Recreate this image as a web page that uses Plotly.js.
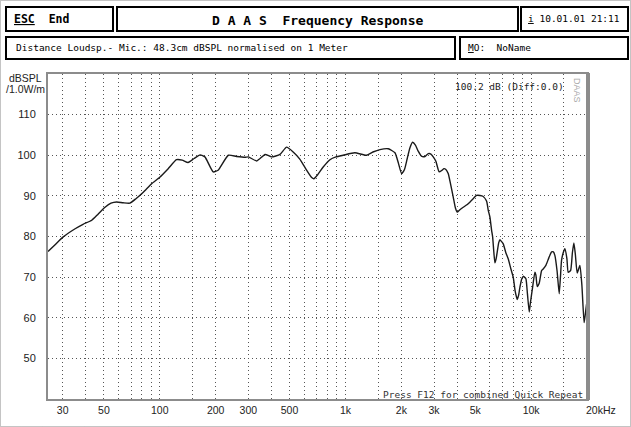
<!DOCTYPE html>
<html><head><meta charset="utf-8">
<script src="https://cdn.plot.ly/plotly-3.0.1.min.js"></script>
<style>html,body{margin:0;padding:0;background:#fff;}#chart{width:631px;height:427px;}</style>
</head><body><div id="chart"></div>
<script>
const freqHz = [25, 27.3, 30.2, 35, 38.6, 43, 46.5, 50.7, 54.6, 58.6, 63.4, 69, 74.4, 81.5, 90.4, 100, 111, 123, 132, 142, 153, 165, 175, 194, 206, 234, 259, 288, 300, 333, 369, 400, 444, 482, 523, 569, 605, 658, 676, 711, 759, 825, 889, 973, 1124, 1300, 1406, 1534, 1700, 1848, 1930, 2007, 2080, 2152, 2223, 2300, 2382, 2466, 2565, 2680, 2793, 2887, 2971, 3070, 3198, 3311, 3393, 3475, 3577, 3698, 3807, 3912, 4000, 4135, 4310, 4510, 4780, 5087, 5300, 5500, 5760, 5873, 5998, 6127, 6205, 6290, 6383, 6478, 6570, 6693, 6792, 6918, 7078, 7310, 7527, 7783, 8010, 8210, 8418, 8560, 8703, 8892, 9068, 9205, 9375, 9550, 9770, 9900, 10185, 10483, 10615, 10786, 11057, 11390, 11613, 12010, 12470, 12895, 13180, 13435, 13800, 14170, 14385, 14585, 14890, 15203, 15593, 15838, 16315, 16685, 17000, 17318, 17710, 18312, 18772, 19290, 19540, 19905];
const splDb = [76.3, 78.0, 79.9, 81.9, 83.0, 84.0, 85.5, 87.2, 88.2, 88.5, 88.3, 88.2, 89.3, 90.9, 93.0, 94.6, 96.7, 98.9, 98.8, 98.2, 99.2, 100.1, 99.6, 95.9, 96.3, 100.0, 99.7, 99.5, 99.6, 98.6, 100.2, 99.6, 100.2, 102.0, 100.8, 99.0, 97.0, 94.5, 94.2, 95.3, 97.1, 98.9, 99.6, 100.0, 100.6, 100.0, 100.8, 101.4, 101.6, 100.6, 98.0, 95.5, 96.5, 99.2, 101.8, 103.2, 102.5, 101.0, 99.8, 99.7, 100.4, 100.3, 99.6, 98.5, 95.9, 96.3, 96.7, 96.5, 95.5, 92.5, 89.7, 87.0, 86.0, 86.6, 87.2, 87.8, 88.9, 90.1, 90.1, 89.9, 88.7, 86.5, 84.8, 81.5, 79.9, 76.5, 73.5, 74.5, 76.2, 78.5, 79.2, 78.8, 78.2, 76.0, 74.5, 72.0, 70.0, 66.5, 64.5, 65.5, 67.5, 69.5, 70.2, 70.0, 69.6, 66.0, 61.4, 63.5, 67.5, 71.2, 70.5, 67.7, 68.5, 71.6, 72.0, 72.9, 74.8, 76.2, 76.2, 75.3, 71.5, 65.9, 70.0, 74.1, 76.0, 77.0, 74.5, 71.2, 71.6, 76.0, 78.4, 75.5, 71.0, 72.9, 68.0, 58.8, 60.5, 63.4];

const xTickVals = [30, 40, 50, 60, 70, 80, 90, 100, 150, 200, 300, 400, 500, 600, 700, 800, 900, 1000, 1500, 2000, 3000, 4000, 5000, 6000, 7000, 8000, 9000, 10000, 15000, 20000];
const xTickText = ['30', '', '50', '', '', '', '', '100', '', '200', '300', '', '500', '', '', '', '', '1k', '', '2k', '3k', '', '5k', '', '', '', '', '10k', '', ''];
const yTickVals = [50, 60, 70, 80, 90, 100, 110];
const yTickText = ['50', '60', '70', '80', '90', '100', '110'];

const W = 631, H = 427, L = 48, R = 587, T = 74, B = 399;
const px = x => (x - L) / (R - L);
const py = y => (B - y) / (B - T);

const mono = 'DejaVu Sans Mono, Liberation Mono, monospace';
const sans = 'Liberation Sans, Arial, sans-serif';

function box(x0, y0, x1, y1) {
  return {type: 'rect', xref: 'paper', yref: 'paper', x0: px(x0), x1: px(x1), y0: py(y1), y1: py(y0),
          line: {color: '#000', width: 2}, fillcolor: 'rgba(0,0,0,0)', layer: 'above'};
}
function txt(x, y, text, size, anchor, opts) {
  return Object.assign({xref: 'paper', yref: 'paper', x: px(x), y: py(y), text: text, showarrow: false,
    xanchor: anchor || 'left', yanchor: 'middle', font: {family: mono, size: size, color: '#000'}}, opts || {});
}

const shapes = [
  {type: 'rect', xref: 'paper', yref: 'paper', x0: px(0.5), x1: px(630.5), y0: py(426.5), y1: py(0.5),
   line: {color: '#888', width: 1, dash: '1px,1px'}},
  box(6, 7, 113, 31), box(117, 7, 518, 31), box(521, 7, 628, 31),
  box(6, 37, 455, 59), box(460, 37, 628, 59),
  {type: 'rect', xref: 'paper', yref: 'paper', x0: px(586), x1: px(590), y0: py(400), y1: py(73),
   line: {width: 0}, fillcolor: '#8c8c8c', layer: 'above'}
];

const annotations = [
  txt(12, 19, '<b><u>ESC</u>  End</b>', 11.5),
  txt(317, 20, '<b>D A A S  Frequency Response</b>', 13, 'center'),
  txt(526, 19, '<u>i</u> 10.01.01 21:11', 9.5),
  txt(14, 48, 'Distance Loudsp.- Mic.: 48.3cm dBSPL normalised on 1 Meter', 9.5),
  txt(466, 48, '<u>M</u>O:  NoName', 9.5),
  txt(44, 78, 'dBSPL', 10, 'right', {font: {family: sans, size: 10.5, color: '#222'}}),
  txt(47, 89, '/1.0W/m', 10, 'right', {font: {family: sans, size: 10.5, color: '#222'}}),
  txt(566, 86, '100.2 dB (Diff:0.0)', 9.5, 'right', {font: {family: mono, size: 9.5, color: '#222'}}),
  txt(585, 394, 'Press F12 for combined Quick Repeat', 9.5, 'right', {font: {family: mono, size: 9.5, color: '#333'}}),
  txt(584, 410, '20kHz', 10.5, 'left', {font: {family: sans, size: 10.5, color: '#222'}}),
  txt(577, 90, 'DAAS', 9, 'center', {textangle: 90, font: {family: sans, size: 9, color: '#aaa'}})
];

const trace = {
  x: freqHz, y: splDb, type: 'scatter', mode: 'lines',
  line: {color: '#1a1a1a', width: 1.4, shape: 'spline', smoothing: 0.5},
  hoverinfo: 'skip'
};

const layout = {
  width: W, height: H,
  margin: {l: L, r: W - R, t: T, b: H - B, pad: 0},
  paper_bgcolor: '#fff', plot_bgcolor: '#fff',
  showlegend: false,
  xaxis: {
    type: 'log', range: [Math.log10(25), Math.log10(20000)],
    tickmode: 'array', tickvals: xTickVals, ticktext: xTickText,
    showgrid: true, gridcolor: '#555', gridwidth: 1, griddash: '1px,3px',
    showline: true, linecolor: '#8c8c8c', linewidth: 2, mirror: true,
    ticks: '', zeroline: false,
    tickfont: {family: sans, size: 10.5, color: '#222'}
  },
  yaxis: {
    range: [40, 120], tickmode: 'array', tickvals: yTickVals, ticktext: yTickText,
    showgrid: true, gridcolor: '#555', gridwidth: 1, griddash: '1px,3px',
    showline: true, linecolor: '#8c8c8c', linewidth: 2, mirror: true,
    ticks: '', zeroline: false, ticklabelstandoff: 8,
    tickfont: {family: sans, size: 11, color: '#222'}
  },
  shapes: shapes,
  annotations: annotations
};

Plotly.newPlot('chart', [trace], layout, {staticPlot: true, displayModeBar: false});
</script>
</body></html>
